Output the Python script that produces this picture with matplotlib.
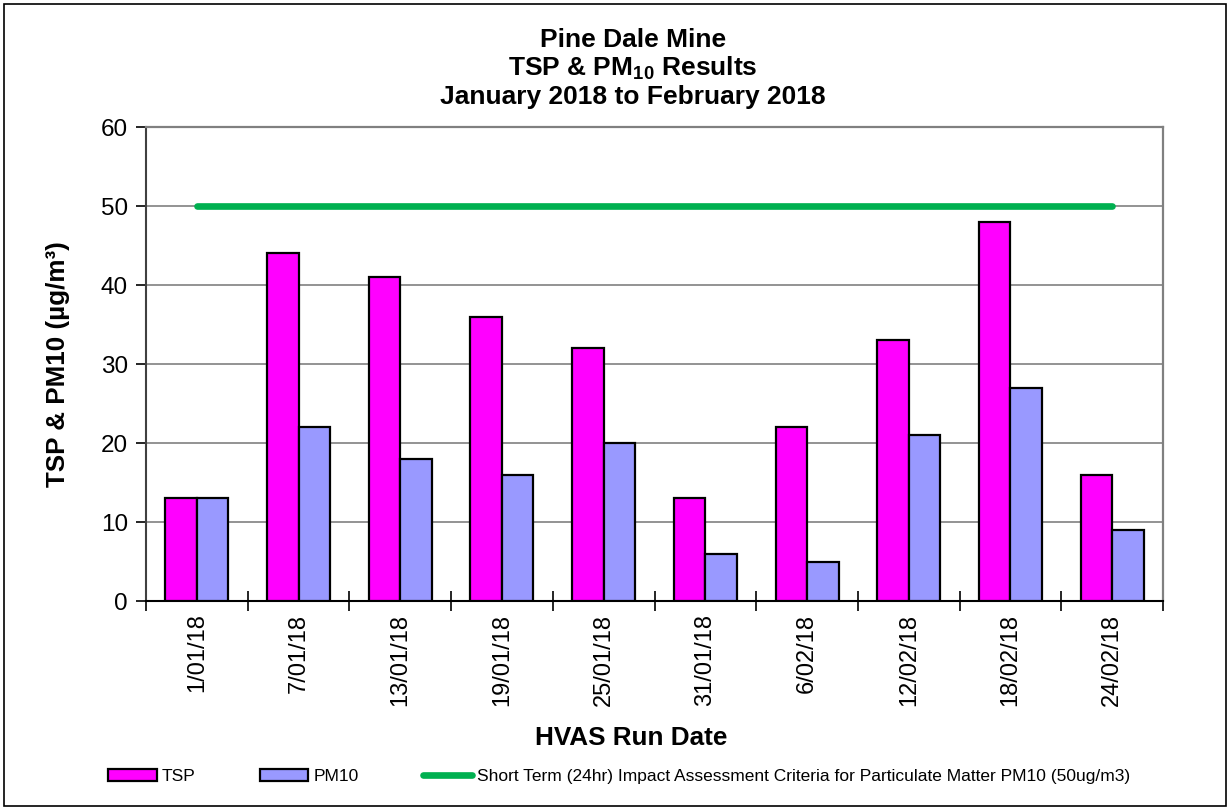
import matplotlib
matplotlib.use("Agg")
import matplotlib.pyplot as plt
import numpy as np
from matplotlib.patches import Rectangle

plt.rcParams['font.family'] = ['Liberation Sans', 'DejaVu Sans']
plt.rcParams['mathtext.fontset'] = 'custom'
plt.rcParams['mathtext.rm'] = 'Liberation Sans:bold'
plt.rcParams['mathtext.default'] = 'rm'

dates = ["1/01/18", "7/01/18", "13/01/18", "19/01/18", "25/01/18",
         "31/01/18", "6/02/18", "12/02/18", "18/02/18", "24/02/18"]
tsp = [13, 44, 41, 36, 32, 13, 22, 33, 48, 16]
pm10 = [13, 22, 18, 16, 20, 6, 5, 21, 27, 9]
criteria = [50] * len(dates)

fig = plt.figure(figsize=(12.31, 8.11), dpi=100)
ax = fig.add_axes([0.1186, 0.2589, 0.8262, 0.5845])

x = np.arange(len(dates))
w = 0.31
b1 = ax.bar(x - w / 2, tsp, w, color='#FF00FF', edgecolor='black', linewidth=1.6,
            label='TSP', zorder=3)
b2 = ax.bar(x + w / 2, pm10, w, color='#9999FF', edgecolor='black', linewidth=1.6,
            label='PM10', zorder=3)
l1, = ax.plot(x, criteria, color='#00B050', linewidth=4.8, solid_capstyle='round',
              label='Short Term (24hr) Impact Assessment Criteria for Particulate Matter PM10 (50ug/m3)',
              zorder=4)

ax.set_xlim(-0.5, len(dates) - 0.5)
ax.set_ylim(0, 60)
ax.set_yticks(range(0, 61, 10))
ax.yaxis.grid(True, color='#808080', linewidth=1.2, zorder=0)
ax.set_axisbelow(True)

ax.set_xticks(x)
ax.set_xticklabels(dates, rotation=90, fontsize=17)
ax.tick_params(axis='x', length=0, pad=9)
ax.set_xticks(np.arange(-0.5, len(dates), 1.0), minor=True)
ax.tick_params(axis='x', which='minor', direction='inout', length=14, width=1.2)
ax.tick_params(axis='y', labelsize=17.5, length=7, width=1.2, direction='out', pad=6)

for s in ['top', 'right']:
    ax.spines[s].set_color('#808080')
    ax.spines[s].set_linewidth(1.6)
ax.spines['left'].set_color('#404040')
ax.spines['left'].set_linewidth(1.5)
ax.spines['bottom'].set_color('black')
ax.spines['bottom'].set_linewidth(1.5)

ax.set_ylabel('TSP & PM10 (µg/m³)', fontsize=18.7, fontweight='bold')
ax.yaxis.set_label_coords(-0.0747, 0.5)
ax.set_xlabel('HVAS Run Date', fontsize=18.8, fontweight='bold')
ax.xaxis.set_label_coords(0.477, -0.263)

tx = 0.514
fig.text(tx, 0.951, 'Pine Dale Mine', ha='center', va='center',
         fontsize=19, fontweight='bold')
fig.text(tx, 0.916, r'TSP & PM$_{10}$ Results', ha='center', va='center',
         fontsize=19, fontweight='bold')
fig.text(tx, 0.880, 'January 2018 to February 2018', ha='center', va='center',
         fontsize=19, fontweight='bold')

leg = fig.legend(handles=[b1, b2, l1], loc='center left',
                 bbox_to_anchor=(0.075, 0.043), ncol=3,
                 frameon=False, fontsize=12.5, handlelength=2.8,
                 handletextpad=0.3, columnspacing=3.7)

fig.patches.append(Rectangle((0.003, 0.006), 0.993, 0.989, transform=fig.transFigure,
                             fill=False, edgecolor='black', linewidth=1.2))

fig.savefig('out.png', dpi=100)
